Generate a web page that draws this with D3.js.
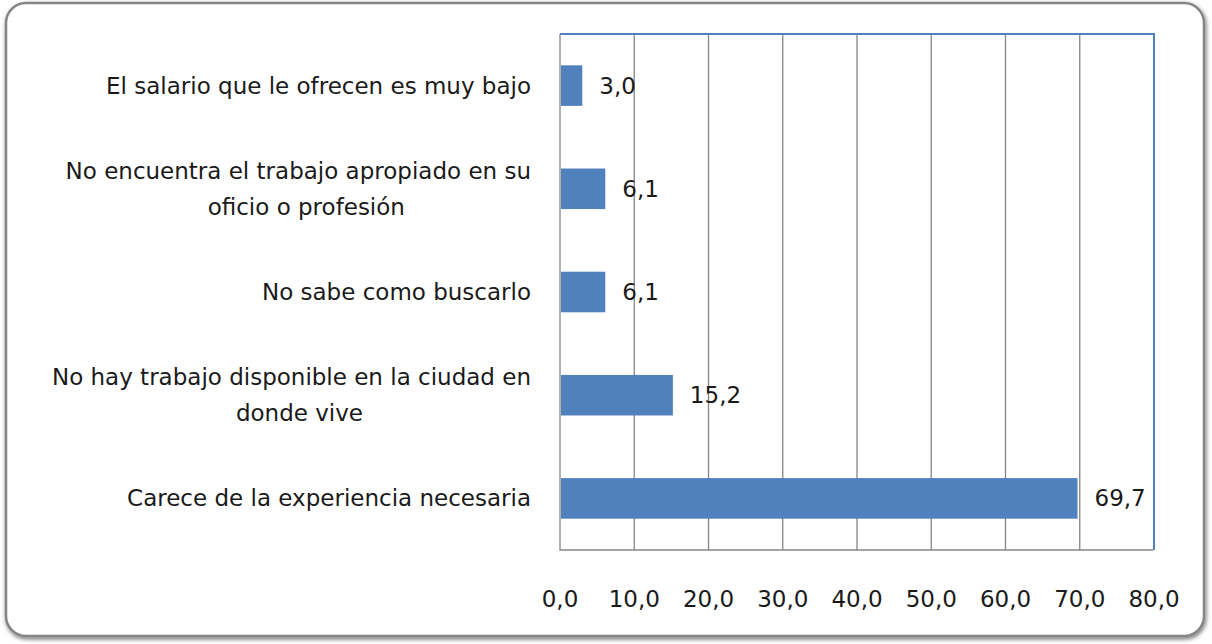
<!DOCTYPE html>
<html>
<head>
<meta charset="utf-8">
<script src="https://cdn.jsdelivr.net/npm/d3@7"></script>
<style>
  html, body { margin: 0; padding: 0; background: #fff; }
  svg { display: block; }
  text { font-family: 'DejaVu Sans', sans-serif; fill: #1a1a1a; }
</style>
</head>
<body>
<div id="chart"></div>
<script>
// categories top -> bottom, label lines split as in the original
const categories = [
  ['El salario que le ofrecen es muy bajo'],
  ['No encuentra el trabajo apropiado en su', 'oficio o profesión'],
  ['No sabe como buscarlo'],
  ['No hay trabajo disponible en la ciudad en', 'donde vive'],
  ['Carece de la experiencia necesaria'],
];
const values = [3.0, 6.1, 6.1, 15.2, 69.7];
const ticks = [0, 10, 20, 30, 40, 50, 60, 70, 80];

const W = 1212, H = 644;
const plot = { left: 560, right: 1154, top: 34, bottom: 550 };
const fs = '23px';
const fmt = v => v.toFixed(1).replace('.', ',');

const svg = d3.select('#chart').append('svg').attr('width', W).attr('height', H);

const defs = svg.append('defs');
const f = defs.append('filter').attr('id', 'shadow')
  .attr('x', '-5%').attr('y', '-5%').attr('width', '110%').attr('height', '110%');
f.append('feDropShadow').attr('dx', 1).attr('dy', 2).attr('stdDeviation', 2)
  .attr('flood-color', '#000').attr('flood-opacity', 0.55);

// frame
svg.append('rect')
  .attr('x', 6).attr('y', 3).attr('width', 1198).attr('height', 633)
  .attr('rx', 20).attr('ry', 20)
  .attr('fill', '#fff').attr('stroke', '#858585').attr('stroke-width', 2.5)
  .attr('filter', 'url(#shadow)');

const x = d3.scaleLinear().domain([0, 80]).range([plot.left, plot.right]);
const y = d3.scaleBand().domain(d3.range(categories.length))
  .range([plot.top, plot.bottom]).paddingInner(0.607).paddingOuter(0.3035);

// gridlines
svg.append('g').selectAll('line')
  .data(ticks.slice(1, -1))
  .join('line')
  .attr('x1', d => x(d)).attr('x2', d => x(d))
  .attr('y1', plot.top).attr('y2', plot.bottom)
  .attr('stroke', '#868686').attr('stroke-width', 1.3);

// plot border (blue top/right, gray axes left/bottom)
svg.append('path')
  .attr('d', `M${plot.left},${plot.top}H${plot.right}V${plot.bottom}`)
  .attr('fill', 'none').attr('stroke', '#4f81bd').attr('stroke-width', 2);
svg.append('path')
  .attr('d', `M${plot.left},${plot.top}V${plot.bottom}H${plot.right - 1}`)
  .attr('fill', 'none').attr('stroke', '#868686').attr('stroke-width', 1.3);

// bars
svg.append('g').selectAll('rect')
  .data(values)
  .join('rect')
  .attr('x', x(0) + 1)
  .attr('y', (d, i) => y(i))
  .attr('width', d => x(d) - x(0) - 1)
  .attr('height', y.bandwidth())
  .attr('fill', '#4f81bd');

// value labels
svg.append('g').selectAll('text')
  .data(values)
  .join('text')
  .attr('x', d => x(d) + 17)
  .attr('y', (d, i) => y(i) + y.bandwidth() / 2)
  .attr('dy', '0.35em')
  .style('font-size', fs)
  .text(d => fmt(d));

// x tick labels
svg.append('g').selectAll('text')
  .data(ticks)
  .join('text')
  .attr('x', d => x(d))
  .attr('y', 607)
  .attr('text-anchor', 'middle')
  .style('font-size', fs)
  .text(d => fmt(d));

// category labels
const lineH = 36;
const labels = svg.append('g').selectAll('g')
  .data(categories)
  .join('g');
labels.each(function (lines, i) {
  const g = d3.select(this);
  const cy = y(i) + y.bandwidth() / 2;
  const y0 = cy - (lines.length - 1) * lineH / 2;
  const first = g.append('text')
    .attr('x', 531).attr('y', y0).attr('dy', '0.35em')
    .attr('text-anchor', 'end')
    .style('font-size', fs)
    .text(lines[0]);
  if (lines.length > 1) {
    const w = first.node().getComputedTextLength();
    g.append('text')
      .attr('x', 531 - w / 2 + 8).attr('y', y0 + lineH).attr('dy', '0.35em')
      .attr('text-anchor', 'middle')
      .style('font-size', fs)
      .text(lines[1]);
  }
});
</script>
</body>
</html>
